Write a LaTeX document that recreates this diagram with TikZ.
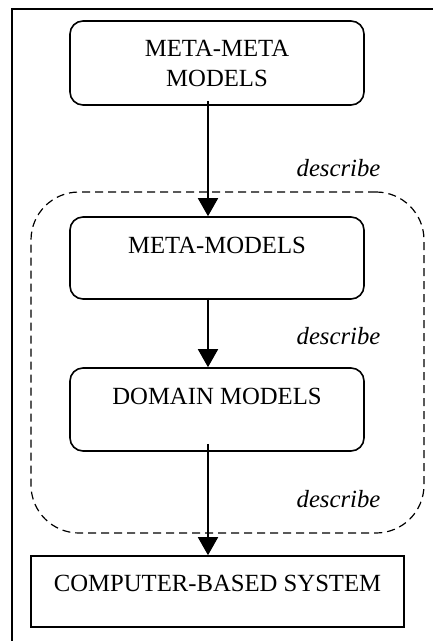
\documentclass[tikz,border=0pt]{standalone}
\usepackage{fontspec}
\setmainfont{Liberation Serif}
\usetikzlibrary{arrows.meta}
\begin{document}
\begin{tikzpicture}[x=1pt,y=-1pt,
  lbl/.style={font=\fontsize{24.7}{30}\selectfont},
  modelbox/.style={draw,line width=1.6pt,rounded corners=13pt,minimum width=294pt,
    inner sep=0pt,lbl,align=center},
  sysbox/.style={draw,line width=1.6pt,minimum width=373pt,inner sep=0pt,lbl},
  group/.style={draw,dashed,dash pattern=on 8pt off 5pt,line width=1.2pt,
    rounded corners=48pt,minimum width=393pt,minimum height=341pt,inner sep=0pt},
  verb/.style={lbl,font=\fontsize{24.7}{30}\selectfont\itshape,anchor=base},
  arr/.style={line width=1.7pt,-{Triangle[length=18pt 0 0,width=20pt 0 0]}}]
\useasboundingbox (0,0) rectangle (433,641);
% frame
\draw[line width=1.6pt] (12,641) -- (12,9) -- (433,9);
% dashed group around the model levels
\node[group] (grp) at (227.5,362.5) {};
% model levels
\node[modelbox,minimum height=84pt] (mm) at (217,63) {META-META\\MODELS};
\node[modelbox,text height=36pt,text depth=46pt] (meta) at (217,258) {META-MODELS};
\node[modelbox,text height=36pt,text depth=47pt] (dom) at (217,409.5) {DOMAIN MODELS};
\node[sysbox,text height=35pt,text depth=36pt] (sys) at (217.5,591.5) {COMPUTER-BASED SYSTEM};
% connector axis
\coordinate (ax) at (208,0);
\draw[arr] ([yshift=5pt]mm.south -| ax) -- (meta.north -| ax);
\draw[arr] ([yshift=2pt]meta.south -| ax) -- (dom.north -| ax);
\draw[arr] ([yshift=8pt]dom.south -| ax) -- (sys.north -| ax);
% labels
\node[verb] (d1) at (338.5,176) {describe};
\node[verb] (d2) at (338.5,344) {describe};
\node[verb] (d3) at (338.5,507) {describe};
\end{tikzpicture}
\end{document}
